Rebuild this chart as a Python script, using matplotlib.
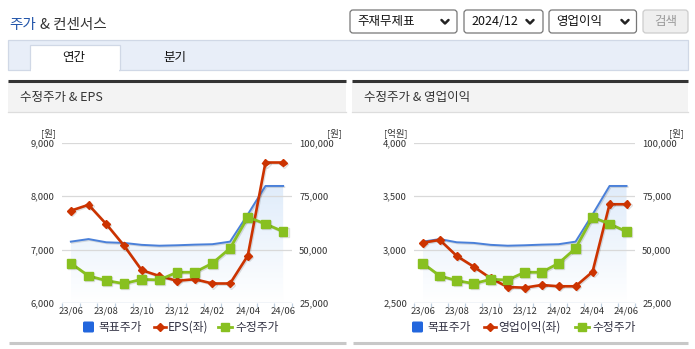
import numpy as np
import matplotlib
matplotlib.use('Agg')
import matplotlib.pyplot as plt
from matplotlib.patches import Rectangle, FancyBboxPatch, Polygon
from matplotlib.colors import LinearSegmentedColormap
import matplotlib.patheffects as pe
from matplotlib.ticker import FuncFormatter, FixedLocator

plt.rcParams['font.family'] = ['Noto Sans CJK KR', 'DejaVu Sans']

# data (monthly, 23/06 .. 24/06)
months = ['23/06', '23/07', '23/08', '23/09', '23/10', '23/11', '23/12',
          '24/01', '24/02', '24/03', '24/04', '24/05', '24/06']
eps = [7730, 7840, 7480, 7080, 6620, 6510, 6420, 6450, 6370, 6370, 6890, 8630, 8630]
op_profit = [3066, 3092, 2942, 2842, 2734, 2652, 2646, 2671, 2659, 2659, 2795, 3425, 3425]
target_price = [53800, 55000, 53500, 53200, 52300, 51900, 52100, 52400, 52600, 53800, 66500, 79800, 79800]
adj_price = [43700, 37800, 35600, 34200, 36200, 35900, 39500, 39500, 43700, 50700, 65200, 62100, 58500]

eps_ticks = [6000, 7000, 8000, 9000]
op_ticks = [2500, 3000, 3500, 4000]
price_ticks = [25000, 50000, 75000, 100000]

W, H = 695, 349
BLUE = '#4a80d9'
RED = '#cc3300'
GREEN = '#88c020'
AXIS = '#c0d0e0'
GRID = '#d9d9d9'

fig = plt.figure(figsize=(W / 100, H / 100), dpi=100)
fig.patch.set_facecolor('white')

# page furniture in pixel coordinates
bg = fig.add_axes([0, 0, 1, 1], zorder=0)
bg.set_xlim(0, W)
bg.set_ylim(H, 0)
bg.axis('off')

bg.text(9, 24.5, '주가', color='#2255aa', fontsize=10.5, va='center', ha='left')
bg.text(40, 24.5, '& 컨센서스', color='#333333', fontsize=10.5, va='center', ha='left')


def chevron(x, y):
    bg.plot([x - 3.5, x, x + 3.5], [y - 1.5, y + 2, y - 1.5], color='#222222', lw=1.8,
            solid_capstyle='round', solid_joinstyle='round')


for (x0, x1, txt, tx, cx) in [(350, 457, '주재무제표', 357, 445),
                              (464, 543, '2024/12', 471, 530),
                              (549, 636.5, '영업이익', 556, 625)]:
    bg.add_patch(FancyBboxPatch((x0, 10), x1 - x0, 23, boxstyle='round,pad=0,rounding_size=3',
                                facecolor='white', edgecolor='#777777', lw=0.9))
    bg.text(tx, 21.5, txt, fontsize=9, color='#111111', va='center', ha='left')
    chevron(cx, 21.5)
bg.add_patch(FancyBboxPatch((643, 10), 45, 23, boxstyle='round,pad=0,rounding_size=3',
                            facecolor='#efefef', edgecolor='#cccccc', lw=0.9))
bg.text(665.5, 21.5, '검색', fontsize=9, color='#999999', va='center', ha='center')

# tab bar
bg.add_patch(Rectangle((8, 40), 680, 29.5, facecolor='#e8eef8', edgecolor='#d0d8e6', lw=0.9))
bg.add_patch(Rectangle((30, 45), 90, 25, facecolor='white', edgecolor='#d0d8e6', lw=0.9))
bg.add_patch(Rectangle((30.6, 68.5), 88.8, 3, facecolor='white', edgecolor='none'))
bg.text(74, 57.5, '연간', fontsize=9, color='#111111', va='center', ha='center')
bg.text(175, 57.5, '분기', fontsize=9, color='#111111', va='center', ha='center')

grad = LinearSegmentedColormap.from_list('g', ['#ffffff', '#deebfa'])


def panel(px0, px1, title, ax_x0, ax_x1, left_vals, left_ticks, left_unit):
    # panel frame
    bg.add_patch(Rectangle((px0, 81), px1 - px0, 31, facecolor='#f3f3f3', edgecolor='none'))
    bg.plot([px0, px1], [80.8, 80.8], color='#333333', lw=2.2, solid_capstyle='butt')
    bg.plot([px0, px1], [112, 112], color='#dddddd', lw=0.9)
    bg.plot([px0 + 1, px1], [343, 343], color='#c8c8c8', lw=2.2, solid_capstyle='butt')
    bg.text(px0 + 12, 97, title, fontsize=9, color='#333333', va='center', ha='left')

    top, bot = 142.7, 303.3
    rect = [ax_x0 / W, 1 - bot / H, (ax_x1 - ax_x0) / W, (bot - top) / H]
    ax2 = fig.add_axes(rect, zorder=1)     # right scale: fill, grid, target price
    ax = fig.add_axes(rect, zorder=2)      # left scale: eps / operating profit
    ax3 = fig.add_axes(rect, zorder=3)     # right scale again: adjusted price on top
    x = np.arange(len(months))
    for a in (ax, ax2, ax3):
        a.set_xlim(-0.5, len(months) - 0.5)
        a.patch.set_visible(False)
        for s in a.spines.values():
            s.set_visible(False)
    ax2.set_ylim(price_ticks[0], price_ticks[-1])
    ax3.set_ylim(price_ticks[0], price_ticks[-1])
    ax.set_ylim(left_ticks[0], left_ticks[-1])

    # gradient area under target price
    verts = [(x[0], price_ticks[0])] + list(zip(x, target_price)) + [(x[-1], price_ticks[0])]
    poly = Polygon(verts, closed=True, facecolor='none', edgecolor='none')
    ax2.add_patch(poly)
    gvals = np.linspace(0, 1, 256).reshape(-1, 1)
    im = ax2.imshow(gvals, cmap=grad, origin='lower', aspect='auto', zorder=0.2,
                    extent=[x[0], x[-1], price_ticks[0], max(target_price) + 3000])
    im.set_clip_path(poly)
    ax2.set_xlim(-0.5, len(months) - 0.5)
    ax2.set_ylim(price_ticks[0], price_ticks[-1])
    for t in price_ticks[1:]:
        ax2.axhline(t, color=GRID, lw=0.9, zorder=0.5)
    ax2.axhline(price_ticks[0], color=AXIS, lw=1.0, zorder=0.6)

    shadow = [pe.SimpleLineShadow(offset=(0.8, -0.8), alpha=0.12, shadow_color='black'), pe.Normal()]
    ax2.plot(x, target_price, color=BLUE, lw=1.4, zorder=2, path_effects=shadow)
    ax.plot(x, left_vals, color=RED, lw=1.9, marker='D', ms=4.0, mec=RED, mfc=RED,
            zorder=3, path_effects=shadow)
    ax3.plot(x, adj_price, color=GREEN, lw=2.0, marker='s', ms=6.2, mec=GREEN, mfc=GREEN,
             zorder=4, path_effects=shadow)

    # ticks
    ax.yaxis.set_major_locator(FixedLocator(left_ticks))
    ax.yaxis.set_major_formatter(FuncFormatter(lambda v, p: f'{int(v):,}'))
    ax.tick_params(axis='y', length=0, pad=5.2, labelsize=6.8, labelcolor='#333333')
    ax2.yaxis.tick_right()
    ax2.yaxis.set_major_locator(FixedLocator(price_ticks))
    ax2.yaxis.set_major_formatter(FuncFormatter(lambda v, p: f'{int(v):,}'))
    ax2.tick_params(axis='y', length=0, pad=5.2, labelsize=6.8, labelcolor='#333333')
    ax2.set_xticks([])
    ax3.set_xticks([])
    ax3.set_yticks([])
    ax.set_xticks(x[::2])
    ax.set_xticklabels(months[::2])
    ax.set_xticks(np.arange(-0.5, len(months), 1.0), minor=True)
    ax.tick_params(axis='x', which='major', length=0, pad=2.2, labelsize=6.8, labelcolor='#333333')
    ax.tick_params(axis='x', which='minor', length=3.2, width=0.9, color=AXIS, direction='out')

    # unit labels
    bg.text(ax_x0 - 6.5, 133, left_unit, fontsize=6.8, color='#333333', va='center', ha='right')
    bg.text(px1 - 4, 133, '[원]', fontsize=6.8, color='#333333', va='center', ha='right')
    return ax


panel(8, 346, '수정주가 & EPS', 62, 292, eps, eps_ticks, '[원]')
panel(352, 688, '수정주가 & 영업이익', 414.3, 635, op_profit, op_ticks, '[억원]')


# legends
def legend(bx, rx, rname, gx):
    ly = 327
    bg.add_patch(FancyBboxPatch((bx, ly - 5.5), 11, 11, boxstyle='round,pad=0,rounding_size=1.5',
                                facecolor='#2266dd', edgecolor='none'))
    bg.text(bx + 15, ly, '목표주가', fontsize=8.5, color='#333344', va='center', ha='left')
    bg.plot([rx - 6, rx + 6], [ly, ly], color=RED, lw=1.9)
    bg.plot([rx], [ly], marker='D', ms=4.0, color=RED)
    bg.text(rx + 8, ly, rname, fontsize=8.5, color='#333344', va='center', ha='left')
    bg.plot([gx - 7, gx + 7], [ly, ly], color=GREEN, lw=2.0)
    bg.plot([gx], [ly], marker='s', ms=6.2, color=GREEN)
    bg.text(gx + 10, ly, '수정주가', fontsize=8.5, color='#333344', va='center', ha='left')


legend(83, 160, 'EPS(좌)', 225)
legend(412, 490, '영업이익(좌)', 582)

fig.savefig('out.png', dpi=100, facecolor='white')
